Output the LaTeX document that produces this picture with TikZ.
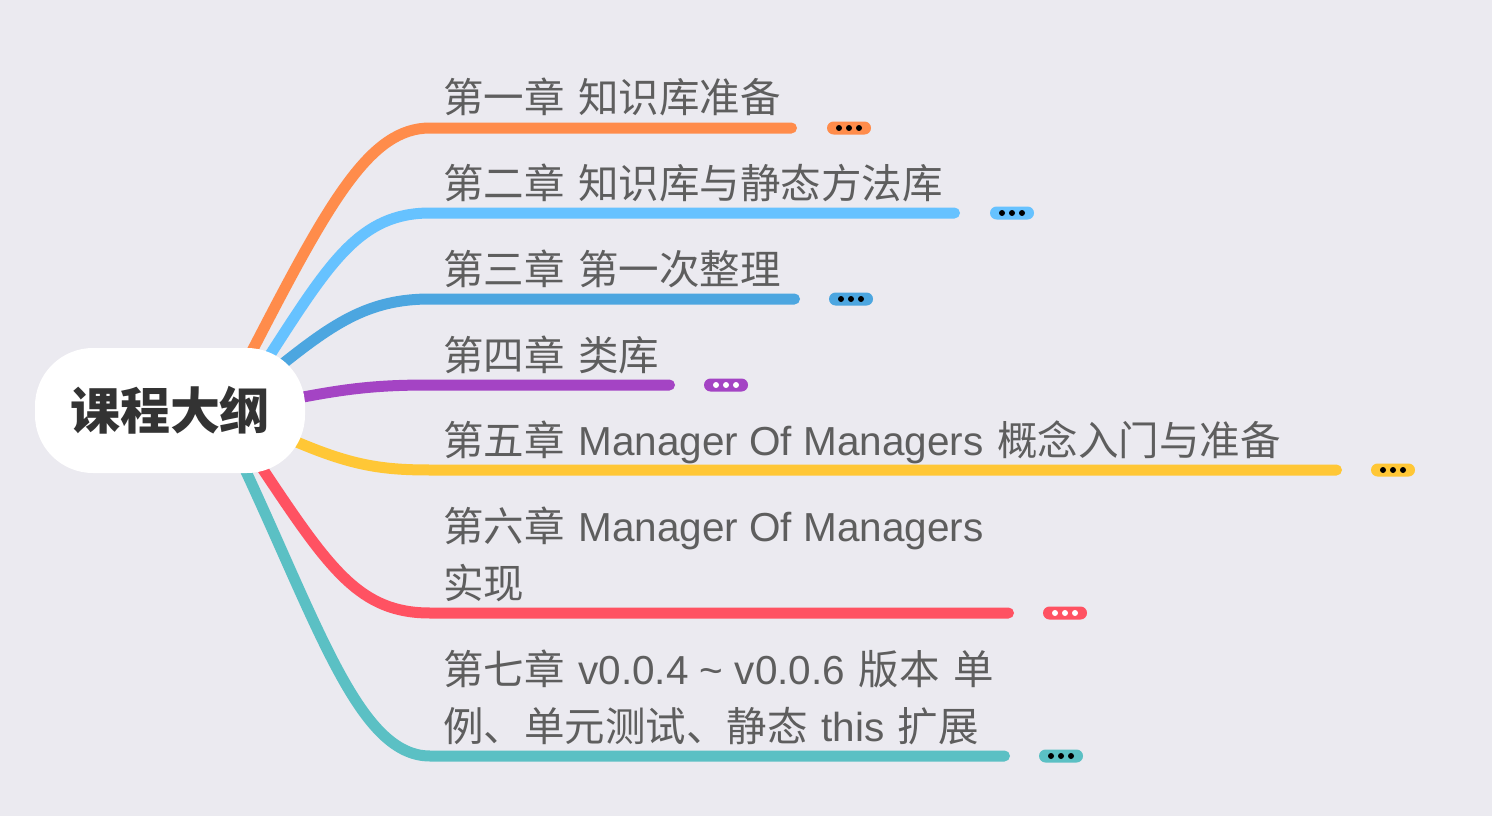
\documentclass[tikz,border=0pt]{standalone}
\usepackage{fontspec}
\newfontfamily\cjkf[WordSpace=1.5]{Noto Sans CJK SC}
\newfontfamily\latf{Liberation Sans}
\definecolor{bgc}{HTML}{EBEAF0}
\definecolor{txt}{HTML}{5E5E5E}
\definecolor{roottxt}{HTML}{333333}
\definecolor{cA}{HTML}{FF8C4B}
\definecolor{cB}{HTML}{66C2FF}
\definecolor{cC}{HTML}{4CA6E0}
\definecolor{cD}{HTML}{A444C4}
\definecolor{cE}{HTML}{FFC736}
\definecolor{cF}{HTML}{FF5262}
\definecolor{cG}{HTML}{5BC0C4}
\begin{document}
\begin{tikzpicture}[x=1pt,y=-1pt,
  branch/.style={line width=11pt, line cap=round},
  lbl/.style={anchor=base west, inner sep=0pt, text=txt, font=\cjkf\fontsize{40.5}{48}\selectfont},
  badge/.style={rounded corners=6.5pt, minimum width=44pt, minimum height=13pt, inner sep=0pt},
  rootbox/.style={fill=white, rounded corners=58pt, minimum width=270pt, minimum height=125pt, inner sep=0pt, text=roottxt, font=\cjkf\bfseries\fontsize{50}{60}\selectfont}
]
\fill[bgc] (0,0) rectangle (1492,816);
\useasboundingbox (0,0) rectangle (1492,816);

% start points (under the root box) and end points
\coordinate (s1) at (250,355);
\coordinate (s2) at (268,358);
\coordinate (s3) at (280,366);
\coordinate (s4) at (298,398);
\coordinate (s5) at (292,440);
\coordinate (s6) at (262,468);
\coordinate (s7) at (243,465);
\coordinate (e1) at (791.5,128);
\coordinate (e2) at (954.5,213);
\coordinate (e3) at (794.5,299);
\coordinate (e4) at (669.5,385);
\coordinate (e5) at (1336.5,470);
\coordinate (e6) at (1008.5,613);
\coordinate (e7) at (1004.5,756);

\draw[branch, cA] (s1) .. controls (330,200) and (370,128) .. (430,128) -- (e1);
\draw[branch, cB] (s2) .. controls (330,262) and (360,213) .. (430,213) -- (e2);
\draw[branch, cC] (s3) .. controls (335,322) and (370,299) .. (430,299) -- (e3);
\draw[branch, cD] (s4) .. controls (350,388) and (380,385) .. (430,385) -- (e4);
\draw[branch, cE] (s5) .. controls (350,465) and (380,470) .. (430,470) -- (e5);
\draw[branch, cF] (s6) .. controls (330,570) and (360,613) .. (430,613) -- (e6);
\draw[branch, cG] (s7) .. controls (320,630) and (360,756) .. (430,756) -- (e7);

\node[rootbox] (root) at (170,410.5) {课程大纲};

% labels
\node[lbl] (t1) at (443,113) {第一章 知识库准备};
\node[lbl] (t2) at (443,198) {第二章 知识库与静态方法库};
\node[lbl] (t3) at (443,284) {第三章 第一次整理};
\node[lbl] (t4) at (443,370) {第四章 类库};
\node[lbl] (t5) at (443,455) {第五章 {\latf Manager Of Managers} 概念入门与准备};
\node[lbl] (t6a) at (443,541) {第六章 {\latf Manager Of Managers}};
\node[lbl] (t6b) at (443,598) {实现};
\node[lbl] (t7a) at (443,684) {第七章 {\latf v0.0.4 \textasciitilde{} v0.0.6} 版本 单};
\node[lbl] (t7b) at (443,741) {例、单元测试、静态 {\latf this} 扩展};

% collapse badges
\node[badge, fill=cA] (b1) at (849,128) {};
\node[badge, fill=cB] (b2) at (1012,213) {};
\node[badge, fill=cC] (b3) at (851,299) {};
\node[badge, fill=cD] (b4) at (726,385) {};
\node[badge, fill=cE] (b5) at (1393,470) {};
\node[badge, fill=cF] (b6) at (1065,613) {};
\node[badge, fill=cG] (b7) at (1061,756) {};
\foreach \b/\c in {b1/black,b2/black,b3/black,b4/white,b5/black,b6/white,b7/black}{
  \foreach \d in {-10,0,10}{
    \fill[\c] ([xshift=\d pt]\b.center) circle (3pt);
  }
}
\end{tikzpicture}
\end{document}
